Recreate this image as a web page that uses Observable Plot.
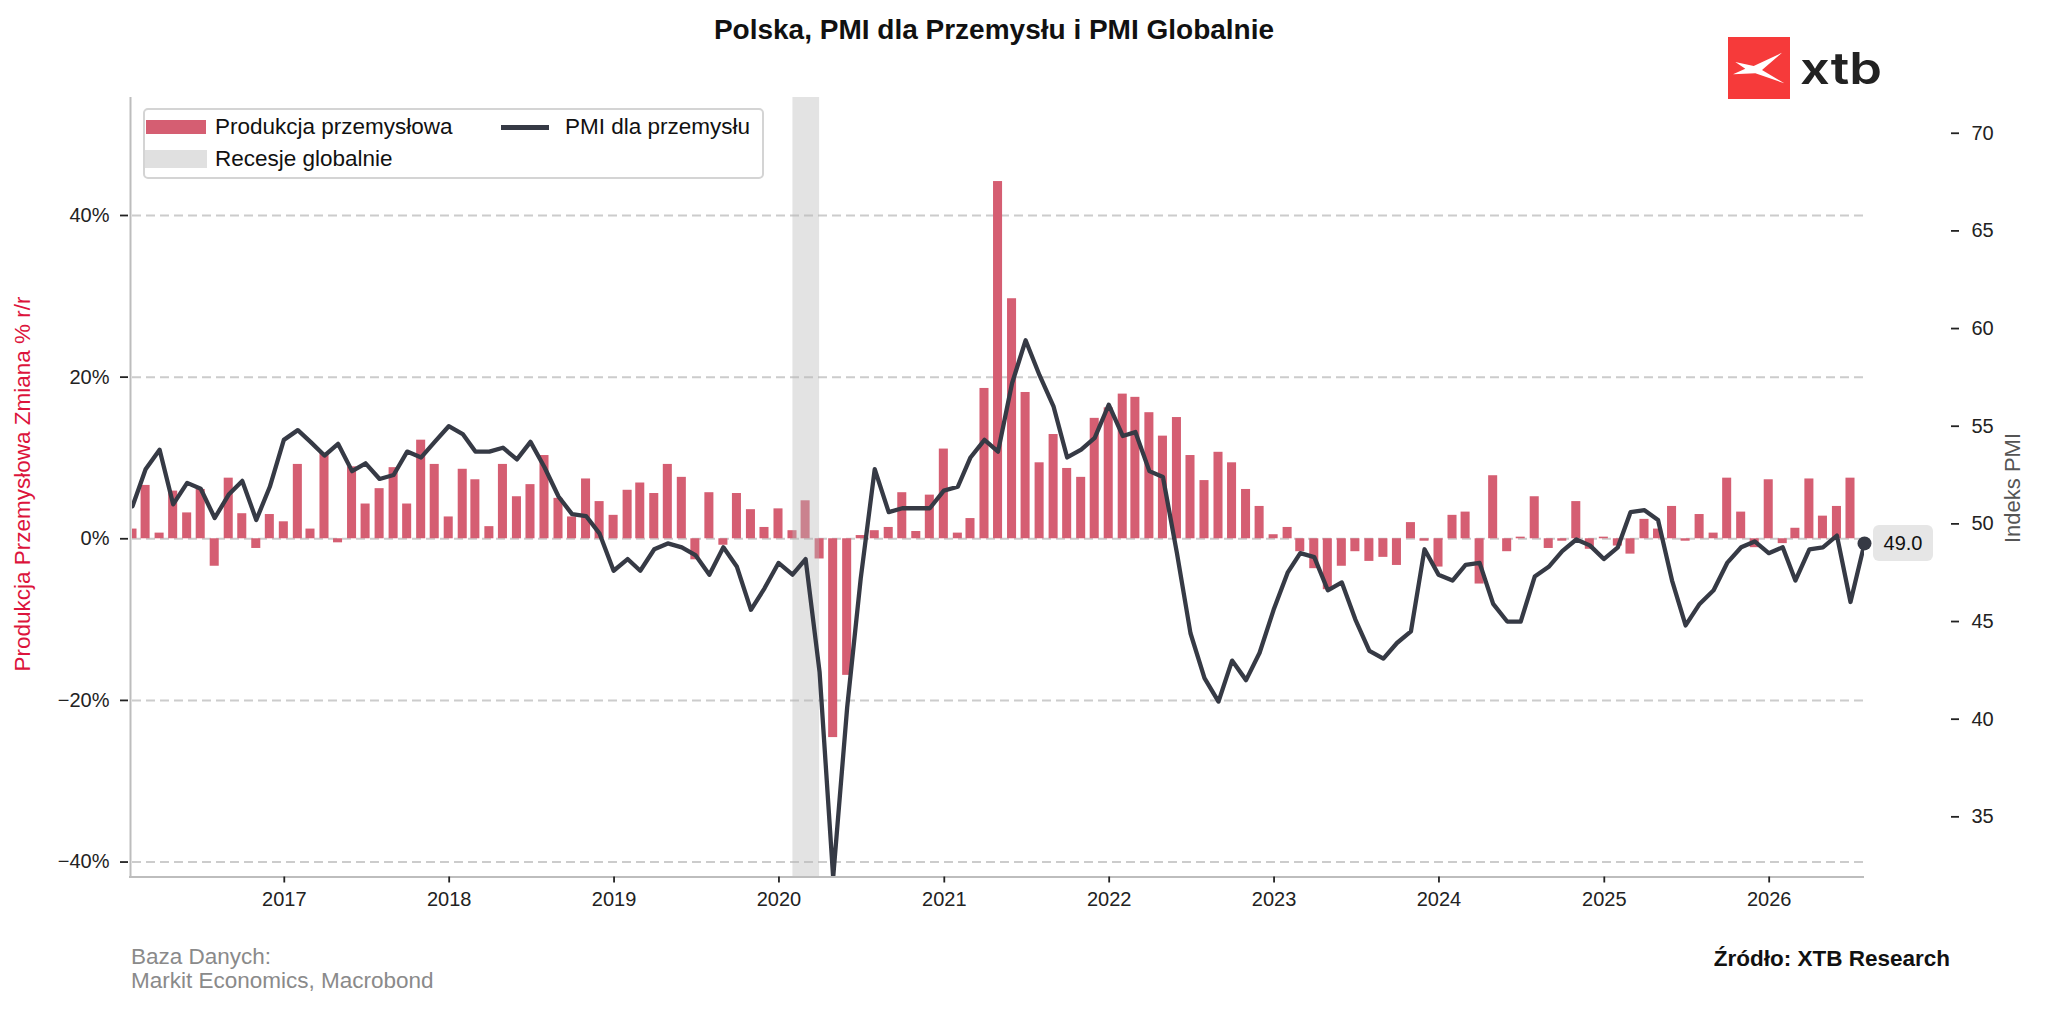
<!DOCTYPE html>
<html>
<head>
<meta charset="utf-8">
<script src="https://cdn.jsdelivr.net/npm/d3@7"></script>
<script src="https://cdn.jsdelivr.net/npm/@observablehq/plot@0.6"></script>
<style>
  html, body { margin: 0; padding: 0; background: #fff; }
  body { font-family: "Liberation Sans", Arial, Helvetica, sans-serif; }
  #wrap { position: relative; width: 2048px; height: 1014px; overflow: hidden; background: #fff; }
  #wrap svg.chart { position: absolute; left: 0; top: 0; }
  .abs { position: absolute; white-space: nowrap; }
  #title { left: 494px; width: 1000px; top: 14px; text-align: center; font-weight: bold; font-size: 28px; color: #111; }
  #legend { left: 143px; top: 108px; width: 617px; height: 67px; border: 2px solid #d4d4d4; border-radius: 5px; background: #fff; }
  .sw { position: absolute; }
  .lt { position: absolute; font-size: 22.5px; color: #111; line-height: 26px; }
  #ylab { left: 23px; top: 484px; transform: translate(-50%, -50%) rotate(-90deg); font-size: 22.5px; color: #dc143c; }
  #ylab2 { left: 2013px; top: 488px; transform: translate(-50%, -50%) rotate(-90deg); font-size: 22px; color: #555; }
  #src1 { left: 131px; top: 945px; font-size: 22.5px; color: #8a8a8a; line-height: 23.5px; }
  #src2 { right: 98px; top: 946px; font-size: 22.5px; font-weight: bold; color: #111; }
  #lastlab { background: #e6e6e6; border-radius: 6px; font-size: 20px; color: #111; width: 60px; height: 36px; line-height: 36px; text-align: center; }
  #logo { left: 1728px; top: 37px; }
</style>
</head>
<body>
<div id="wrap"></div>
<script>
// ---------- data (monthly, month-end dates) ----------
const firstYear = 2016;            // series start: January 2016
const production = [               // Produkcja przemysłowa, % r/r (Jan 2016 .. Jun 2026)
  1.2, 6.6, 0.7, 5.9, 3.2, 6.1, -3.4, 7.5, 3.1, -1.2, 3.0, 2.1,
  9.2, 1.2, 10.6, -0.5, 8.9, 4.3, 6.2, 8.8, 4.3, 12.2, 9.2, 2.7,
  8.6, 7.3, 1.5, 9.2, 5.2, 6.7, 10.3, 5.0, 2.7, 7.4, 4.6, 2.9,
  6.0, 6.9, 5.6, 9.2, 7.6, -2.6, 5.7, -0.8, 5.6, 3.6, 1.4, 3.7,
  1.0, 4.7, -2.5, -24.6, -16.9, 0.4, 1.0, 1.4, 5.7, 0.9, 5.4, 11.1,
  0.7, 2.5, 18.6, 44.2, 29.7, 18.1, 9.4, 12.9, 8.7, 7.6, 14.9, 16.2,
  17.9, 17.5, 15.6, 12.7, 15.0, 10.3, 7.2, 10.7, 9.4, 6.1, 4.0, 0.5,
  1.4, -1.6, -3.7, -6.3, -3.4, -1.6, -2.8, -2.3, -3.3, 2.0, -0.3, -3.5,
  2.9, 3.3, -5.6, 7.8, -1.6, 0.2, 5.2, -1.2, -0.3, 4.6, -1.3, 0.2,
  -0.9, -1.9, 2.4, 1.2, 4.0, -0.3, 3.0, 0.7, 7.5, 3.3, -1.1, 7.3,
  -0.6, 1.3, 7.4, 2.8, 4.0, 7.5
];
const pmi = [                      // PMI dla przemysłu (Jan 2016 .. Jul 2026)
  50.9, 52.8, 53.8, 51.0, 52.1, 51.8, 50.3, 51.5, 52.2, 50.2, 51.9, 54.3,
  54.8, 54.2, 53.5, 54.1, 52.7, 53.1, 52.3, 52.5, 53.7, 53.4, 54.2, 55.0,
  54.6, 53.7, 53.7, 53.9, 53.3, 54.2, 52.9, 51.4, 50.5, 50.4, 49.5, 47.6,
  48.2, 47.6, 48.7, 49.0, 48.8, 48.4, 47.4, 48.8, 47.8, 45.6, 46.7, 48.0,
  47.4, 48.2, 42.4, 31.9, 40.6, 47.2, 52.8, 50.6, 50.8, 50.8, 50.8, 51.7,
  51.9, 53.4, 54.3, 53.7, 57.2, 59.4, 57.6, 56.0, 53.4, 53.8, 54.4, 56.1,
  54.5, 54.7, 52.7, 52.4, 48.5, 44.4, 42.1, 40.9, 43.0, 42.0, 43.4, 45.6,
  47.5, 48.5, 48.3, 46.6, 47.0, 45.1, 43.5, 43.1, 43.9, 44.5, 48.7, 47.4,
  47.1, 47.9, 48.0, 45.9, 45.0, 45.0, 47.3, 47.8, 48.6, 49.2, 48.9, 48.2,
  48.8, 50.6, 50.7, 50.2, 47.1, 44.8, 45.9, 46.6, 48.0, 48.8, 49.1, 48.5,
  48.8, 47.1, 48.7, 48.8, 49.4, 46.0, 49.0
];
const recessions = [{ start: "2020-02-01", end: "2020-03-31" }];
const leftTicks = [-40, -20, 0, 20, 40];
const rightTicks = [35, 40, 45, 50, 55, 60, 65, 70];
const yearTicks = [2017, 2018, 2019, 2020, 2021, 2022, 2023, 2024, 2025, 2026];
const leftDomain = [-41.85, 54.6];
const rightDomain = [31.92, 71.83];

// ---------- build tables ----------
const monthEnd = i => new Date(Date.UTC(firstYear, i + 1, 0));
const barData = production.map((v, i) => ({ date: monthEnd(i), value: v }));
const pmiData = pmi.map((v, i) => ({ date: monthEnd(i), value: v }));
const last = pmiData[pmiData.length - 1];
const recData = recessions.map(r => ({ start: new Date(r.start + "T00:00:00Z"), end: new Date(r.end + "T00:00:00Z") }));
const yearDates = yearTicks.map(y => new Date(Date.UTC(y, 0, 1)));

// map PMI onto the left (%) scale for the twin axis
const toLeft = p => leftDomain[0] + (p - rightDomain[0]) / (rightDomain[1] - rightDomain[0]) * (leftDomain[1] - leftDomain[0]);
const toRight = y => rightDomain[0] + (y - leftDomain[0]) / (leftDomain[1] - leftDomain[0]) * (rightDomain[1] - rightDomain[0]);
const DAY = 86400000;
const xDomain = [monthEnd(0), monthEnd(pmi.length - 1)];

const BAR = "#d55e72", LINE = "#363a45";

const plot = Plot.plot({
  width: 2048,
  height: 1014,
  marginTop: 97,
  marginBottom: 137.5,
  marginLeft: 132,
  marginRight: 184,
  style: { fontFamily: '"Liberation Sans", Arial, sans-serif', fontSize: "20px", color: "#111", background: "transparent" },
  x: { type: "utc", domain: xDomain },
  y: { domain: leftDomain },
  marks: [
    Plot.ruleY(leftTicks, { stroke: "#cccccc", strokeWidth: 2, strokeDasharray: "9,5" }),
    Plot.rect(barData, {
      x1: d => new Date(+d.date - 10 * DAY), x2: d => new Date(+d.date + 10 * DAY),
      y1: () => 0, y2: d => d.value, fill: BAR, clip: true
    }),
    Plot.rect(recData, {
      x1: "start", x2: "end", y1: () => leftDomain[0], y2: () => leftDomain[1],
      fill: "#b8b8b8", fillOpacity: 0.4
    }),
    Plot.line(pmiData, {
      x: "date", y: d => toLeft(d.value), stroke: LINE, strokeWidth: 4.3,
      strokeLinejoin: "round", clip: true
    }),
    Plot.dot([last], { x: "date", y: d => toLeft(d.value), r: 7, fill: LINE }),
    Plot.ruleX([xDomain[0]], { stroke: "#bdbdbd", strokeWidth: 2, dx: -2 }),
    Plot.ruleY([leftDomain[0]], { stroke: "#bdbdbd", strokeWidth: 2, insetLeft: -3 }),
    Plot.axisY(leftTicks, {
      anchor: "left", tickSize: 8, tickPadding: 11, dx: -4, strokeWidth: 1.8, color: "#222",
      tickFormat: d => (d < 0 ? "\u2212" : "") + Math.abs(d) + "%", label: null
    }),
    Plot.axisY(rightTicks.map(toLeft), {
      anchor: "right", tickSize: 8, tickPadding: 13, dx: 86, strokeWidth: 1.8, color: "#222",
      tickFormat: d => String(Math.round(toRight(d))), label: null
    }),
    Plot.axisX(yearDates, {
      anchor: "bottom", tickSize: 6, tickPadding: 9, strokeWidth: 1.8, color: "#222", fontSize: 20,
      tickFormat: d => String(d.getUTCFullYear()), label: null
    })
  ]
});
plot.classList.add("chart");

const wrap = document.getElementById("wrap");
wrap.appendChild(plot);

function addDiv(id, cls, html, style) {
  const el = document.createElement("div");
  if (id) el.id = id;
  el.className = cls;
  el.innerHTML = html;
  if (style) Object.assign(el.style, style);
  wrap.appendChild(el);
  return el;
}

addDiv("title", "abs", "Polska, PMI dla Przemysłu i PMI Globalnie");
addDiv("ylab", "abs", "Produkcja Przemysłowa Zmiana % r/r");
addDiv("ylab2", "abs", "Indeks PMI");
addDiv("src1", "abs", "Baza Danych:<br>Markit Economics, Macrobond");
addDiv("src2", "abs", "Źródło: XTB Research");

// legend
const legend = addDiv("legend", "abs", "");
legend.innerHTML =
  '<div class="sw" style="left:1px;top:10px;width:60px;height:14px;background:' + BAR + '"></div>' +
  '<div class="lt" style="left:70px;top:4px;">Produkcja przemysłowa</div>' +
  '<div class="sw" style="left:356px;top:15px;width:48px;height:4.5px;background:' + LINE + '"></div>' +
  '<div class="lt" style="left:420px;top:4px;">PMI dla przemysłu</div>' +
  '<div class="sw" style="left:0px;top:40px;width:62px;height:18px;background:#e0e0e0"></div>' +
  '<div class="lt" style="left:70px;top:36px;">Recesje globalnie</div>';

// last value label, positioned through the scales
const px = plot.scale("x").apply(last.date);
const py = plot.scale("y").apply(toLeft(last.value));
addDiv("lastlab", "abs", last.value.toFixed(1), { left: (px + 9) + "px", top: (py - 18) + "px" });

// logo
addDiv("logo", "abs",
  '<svg width="160" height="64" viewBox="0 0 160 64">' +
  '<rect x="0" y="0" width="62" height="62" fill="#f63a3a"/>' +
  '<polygon points="7.3,25 25.7,29 54,15.7 34,33 56.3,46.3 27.3,36.3 5,37.3 17.3,31.7" fill="#fff"/>' +
  '<text x="72" y="47" font-family="Inter, \'Liberation Sans\', Arial, sans-serif" font-weight="600" font-size="44" fill="#222" textLength="82" lengthAdjust="spacingAndGlyphs">xtb</text>' +
  '</svg>');
</script>
</body>
</html>
